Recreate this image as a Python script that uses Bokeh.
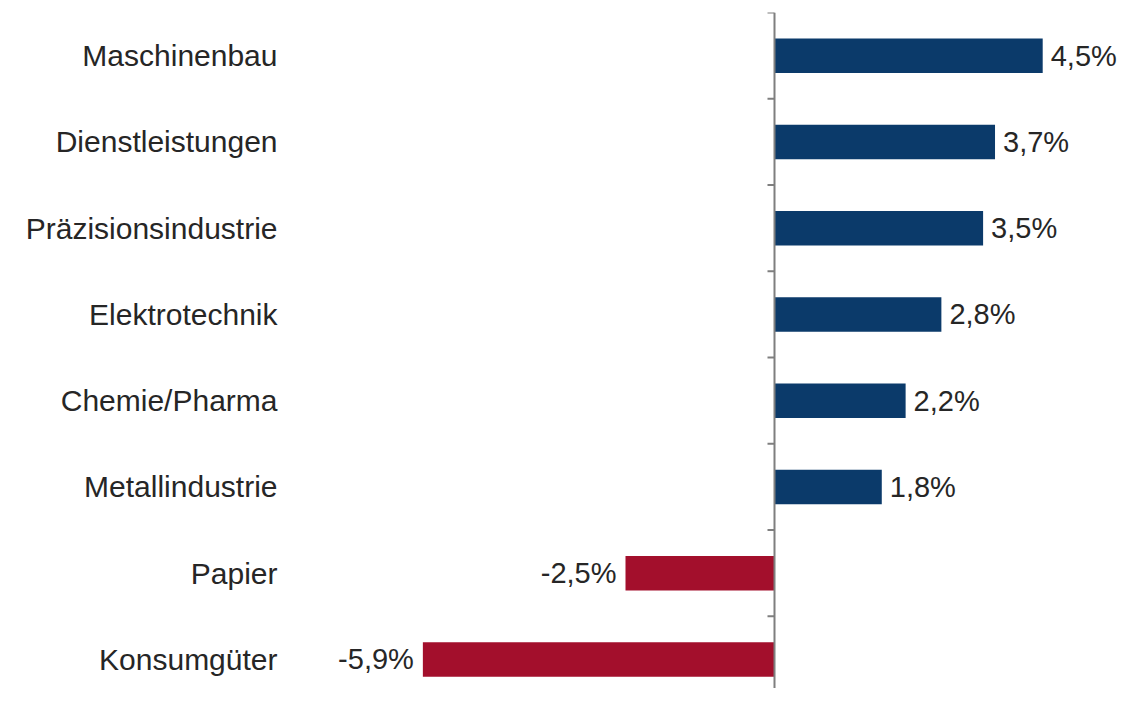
from bokeh.plotting import figure
from bokeh.models import ColumnDataSource, Range1d, FixedTicker, Span
from bokeh.core.properties import value
from bokeh.embed import file_html
from bokeh.resources import INLINE

categories = ["Maschinenbau", "Dienstleistungen", "Präzisionsindustrie", "Elektrotechnik",
              "Chemie/Pharma", "Metallindustrie", "Papier", "Konsumgüter"]
values = [4.5, 3.7, 3.5, 2.8, 2.2, 1.8, -2.5, -5.9]

POS_COLOR = "#0B3A6A"
NEG_COLOR = "#A30F2C"
TEXT_COLOR = "#262626"
FONT = "Liberation Sans"

n = len(categories)
ys = [n - 1 - i for i in range(n)]
labels = [("%.1f" % v).replace(".", ",") + "%" for v in values]
colors = [POS_COLOR if v >= 0 else NEG_COLOR for v in values]
aligns = ["left" if v >= 0 else "right" for v in values]
offsets = [8 if v >= 0 else -9 for v in values]

src = ColumnDataSource(dict(y=ys, v=values, lab=labels, c=colors, al=aligns, off=offsets))

W, H = 1119, 688
left_border = 298
top_border = 12
px_per_unit = 59.6
zero_px = 774
x_min = (left_border - zero_px) / px_per_unit
x_max = (W - zero_px) / px_per_unit
px_per_cat = 86.25
y_top = n - 0.5
y_bottom = y_top - (H - top_border) / px_per_cat

p = figure(width=W, height=H, output_backend="svg", toolbar_location=None,
           x_range=Range1d(x_min, x_max), y_range=Range1d(y_bottom, y_top),
           min_border_left=left_border, min_border_right=0, min_border_top=top_border,
           min_border_bottom=0)
p.outline_line_color = None
p.xgrid.visible = False
p.ygrid.visible = False
p.xaxis.visible = False
p.background_fill_color = "white"
p.border_fill_color = "white"

yax = p.yaxis[0]
yax.ticker = FixedTicker(ticks=ys)
yax.major_label_overrides = {y: c for y, c in zip(ys, categories)}
yax.axis_line_color = None
yax.major_tick_line_color = None
yax.minor_tick_line_color = None
yax.major_tick_out = 0
yax.major_tick_in = 0
yax.major_label_standoff = 21
yax.major_label_text_font = FONT
yax.major_label_text_font_size = "30px"
yax.major_label_text_color = TEXT_COLOR

p.hbar(y="y", left=0, right="v", height=0.4, fill_color="c", line_color=None, source=src)

p.add_layout(Span(location=0, dimension="height", line_color="#7f7f7f", line_width=2))
bounds = [k + 0.5 for k in range(-1, n)]
tick_len = 7 / px_per_unit
p.segment(x0=[-tick_len] * len(bounds), x1=[0] * len(bounds), y0=bounds, y1=bounds,
          line_color="#7f7f7f", line_width=2)

p.text(x="v", y="y", text="lab", x_offset="off", text_align="al", text_baseline="middle",
       text_font=value(FONT), text_font_size="29px", text_color=TEXT_COLOR, source=src)

open("out.html", "w").write(file_html(p, INLINE))
